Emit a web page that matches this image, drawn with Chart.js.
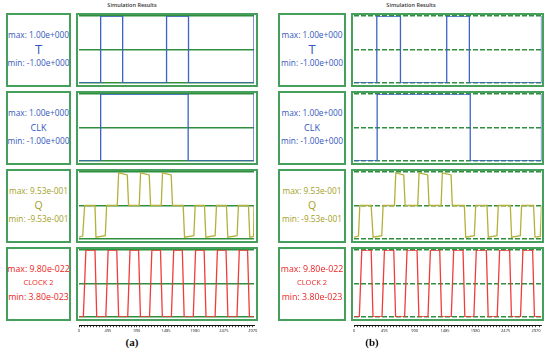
<!DOCTYPE html>
<html lang="en">
<head>
<meta charset="UTF-8">
<title>Simulation Results</title>
<script src="https://cdn.jsdelivr.net/npm/chart.js"></script>
<style>
  body { margin:0; width:550px; height:352px; background:#fff; position:relative; overflow:hidden; font-family:"Open Sans", sans-serif; }
  .box { position:absolute; box-sizing:border-box; border:2px solid #45a05c; }
  .lbl { position:absolute; white-space:nowrap; transform:translate(-50%,-50%); line-height:1; }
  .title { position:absolute; top:6px; transform:translate(-50%,-50%); font-size:5.5px; font-weight:600; color:#333; white-space:nowrap; line-height:1; }
  .tag { position:absolute; top:342px; transform:translate(-50%,-50%); font-family:"Liberation Serif", serif; font-weight:bold; font-size:11px; color:#111; line-height:1; }
  canvas { position:absolute; }
</style>
</head>
<body>
<script>
// x axis tick labels (ns)
const xTicks = [0, 495, 990, 1485, 1980, 2475, 2970];

// signal names and min / max read-outs
const names = ['T', 'CLK', 'Q', 'CLOCK 2'];
const maxText = ['1.00e+000', '1.00e+000', '9.53e-001', '9.80e-022'];
const minText = ['-1.00e+000', '-1.00e+000', '-9.53e-001', '3.80e-023'];
const yMin = [-1, -1, -0.953, 3.8e-23];
const yMax = [1, 1, 0.953, 9.8e-22];

const L = 3.8e-23, H = 9.8e-22;

// (a)
const tA_t = [0, 370, 370, 746, 746, 1496, 1496, 1871, 1871, 2990, 2990];
const tA_v = [-1, -1, 1, 1, -1, -1, 1, 1, -1, -1, 1];
const clkA_t = [0, 370, 370, 1865, 1865, 2990, 2990];
const clkA_v = [-1, -1, 1, 1, -1, -1, 1];
const qA_t = [0, 63, 97, 273, 290, 449, 472, 654, 677, 825, 847, 1029, 1052, 1200, 1223, 1405, 1427, 1575, 1598,
              1780, 1803, 1962, 1985, 2144, 2167, 2326, 2349, 2519, 2542, 2701, 2724, 2895, 2918, 2982, 2990];
const qA_v = [-0.9, -0.87, 0, 0, -0.9, -0.86, 0, 0, 0.93, 0.87, 0, 0, 0.93, 0.87, 0, 0, 0.93, 0.87, 0,
              0, -0.9, -0.86, 0, 0, -0.9, -0.86, 0, 0, -0.9, -0.86, 0, 0, -0.9, -0.88, 0];
const c2A_t = [0, 74, 118, 273, 303, 458, 498, 645, 677, 832, 872, 1018, 1050, 1205, 1245, 1392, 1424,
               1578, 1618, 1765, 1797, 1952, 1992, 2138, 2170, 2325, 2365, 2512, 2544, 2699, 2739, 2880, 2912, 2990];
const c2A_v = [L, L, H, H, L, L, H, H, L, L, H, H, L, L, H, H, L, L, H, H, L, L, H, H, L, L, H, H, L, L, H, H, L, L];

// (b)
const tB_t = [0, 372, 372, 758, 758, 1513, 1513, 1883, 1883, 3060, 3060];
const tB_v = [-1, -1, 1, 1, -1, -1, 1, 1, -1, -1, 1];
const clkB_t = [0, 378, 378, 1897, 1897, 3060, 3060];
const clkB_v = [-1, -1, 1, 1, -1, -1, 1];
const qB_t = [0, 73, 95, 280, 312, 453, 475, 660, 682, 812, 834, 1040, 1062, 1203, 1225, 1421, 1442, 1584, 1605,
              1801, 1823, 1964, 1986, 2170, 2192, 2333, 2355, 2551, 2572, 2714, 2735, 2931, 2953, 3040, 3060];
const qB_v = [-0.9, -0.87, 0, 0, -0.9, -0.86, 0, 0, 0.93, 0.87, 0, 0, 0.93, 0.87, 0, 0, 0.93, 0.87, 0,
              0, -0.9, -0.86, 0, 0, -0.9, -0.86, 0, 0, -0.9, -0.86, 0, 0, -0.9, -0.88, 0];
const c2B_t = [0, 87, 127, 280, 310, 457, 497, 649, 679, 826, 866, 1029, 1059, 1207, 1247, 1399, 1429,
               1587, 1627, 1779, 1809, 1956, 1996, 2160, 2190, 2337, 2377, 2540, 2570, 2717, 2757, 2915, 2945, 3060];
const c2B_v = [L, L, H, H, L, L, H, H, L, L, H, H, L, L, H, H, L, L, H, H, L, L, H, H, L, L, H, H, L, L, H, H, L, L];

const lineColors = ['#3c63c6', '#3c63c6', '#b3b13a', '#f23b3b'];
const textColors = ['#3558bd', '#3558bd', '#a3a027', '#ec2626'];
const nameSize = [13, 9, 10.5, 7.5];
const valSize = [8.3, 8.3, 8.3, 8.8];
const rowTop = [13, 91, 169, 247];
const BOX_H = 74;

const sides = [
  { tag: '(a)', tagX: 132, titleX: 132, labelX: 6, labelW: 65, plotX: 76, plotW: 182, padL: 3, padR: 4,
    dashed: false, xMax: 2990,
    series: [[tA_t, tA_v], [clkA_t, clkA_v], [qA_t, qA_v], [c2A_t, c2A_v]] },
  { tag: '(b)', tagX: 372, titleX: 411, labelX: 278, labelW: 68, plotX: 351, plotW: 193, padL: 3, padR: 2.5,
    dashed: true, xMax: 3060,
    series: [[tB_t, tB_v], [clkB_t, clkB_v], [qB_t, qB_v], [c2B_t, c2B_v]] }
];

function el(tag, cls, css, text) {
  const e = document.createElement(tag);
  if (cls) e.className = cls;
  Object.assign(e.style, css);
  if (text !== undefined) e.textContent = text;
  document.body.appendChild(e);
  return e;
}

sides.forEach(side => {
  el('div', 'title', { left: side.titleX + 'px' }, 'Simulation Results');
  el('div', 'tag', { left: side.tagX + 'px' }, side.tag);

  rowTop.forEach((top, r) => {
    // label box
    el('div', 'box', { left: side.labelX + 'px', top: top + 'px', width: side.labelW + 'px', height: BOX_H + 'px' });
    const cx = side.labelX + side.labelW / 2;
    el('div', 'lbl', { left: cx + 'px', top: (top + 22) + 'px', fontSize: valSize[r] + 'px', color: textColors[r] }, 'max: ' + maxText[r]);
    el('div', 'lbl', { left: cx + 'px', top: (top + 36) + 'px', fontSize: nameSize[r] + 'px', color: textColors[r] }, names[r]);
    el('div', 'lbl', { left: cx + 'px', top: (top + 50) + 'px', fontSize: valSize[r] + 'px', color: textColors[r] }, 'min: ' + minText[r]);

    // plot box
    el('div', 'box', { left: side.plotX + 'px', top: top + 'px', width: side.plotW + 'px', height: BOX_H + 'px' });
    const cv = el('canvas', null, { left: side.plotX + 'px', top: top + 'px' });
    cv.width = side.plotW;
    cv.height = BOX_H;

    const [ts, vs] = side.series[r];
    const lo = yMin[r], hi = yMax[r];
    new Chart(cv, {
      type: 'line',
      data: {
        datasets: [{
          data: ts.map((t, i) => ({ x: t, y: vs[i] })),
          borderColor: lineColors[r],
          borderWidth: 1.3,
          pointRadius: 0,
          tension: 0,
          fill: false
        }]
      },
      options: {
        responsive: false,
        animation: false,
        events: [],
        layout: { padding: { left: side.padL, right: side.padR, top: 3, bottom: 4 } },
        plugins: { legend: { display: false }, tooltip: { enabled: false } },
        scales: {
          x: { type: 'linear', min: 0, max: side.xMax, display: false },
          y: {
            min: lo, max: hi,
            afterBuildTicks: s => { s.ticks = [lo, (lo + hi) / 2, hi].map(v => ({ value: v })); },
            ticks: { display: false },
            grid: { color: '#2f8f3f', lineWidth: 1.5, drawTicks: false },
            border: { display: false, dash: side.dashed ? [5, 2] : [] }
          }
        }
      }
    });
  });

  // time axis under the panels
  const ax = el('canvas', null, { left: (side.plotX - 6) + 'px', top: '315px' });
  ax.width = side.plotW + 12;
  ax.height = 19;
  new Chart(ax, {
    type: 'line',
    data: { datasets: [] },
    options: {
      responsive: false,
      animation: false,
      events: [],
      layout: { padding: { left: side.padL + 6, right: side.padR + 6, top: 0, bottom: 0 } },
      plugins: { legend: { display: false }, tooltip: { enabled: false } },
      scales: {
        x: {
          type: 'linear', min: 0, max: side.xMax, position: 'bottom',
          afterBuildTicks: s => {
            const t = [];
            for (let v = 0; v <= side.xMax; v += 49.5) t.push({ value: Math.round(v * 10) / 10 });
            s.ticks = t;
          },
          ticks: {
            autoSkip: false, maxRotation: 0, padding: 1,
            font: { size: 4, family: 'Open Sans' }, color: '#222',
            callback: v => xTicks.includes(v) ? String(v) : ''
          },
          grid: { drawOnChartArea: false, drawTicks: true, tickLength: 2, color: '#111', lineWidth: 0.8 },
          border: { display: true, color: '#111', width: 1 }
        },
        y: { display: false, min: 0, max: 1 }
      }
    }
  });
});
</script>
</body>
</html>
